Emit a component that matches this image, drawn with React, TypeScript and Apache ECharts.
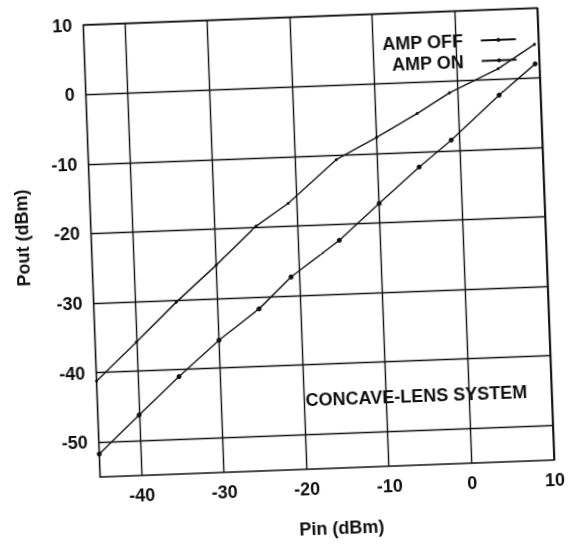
import React, { useEffect, useRef } from 'react';
import * as echarts from 'echarts';

// Pin (dBm) / Pout (dBm)
const pinOff = [-45, -40, -35, -30, -25, -21, -15, -10, -5, -1, 5, 9.5];
const poutOff = [-51.7, -46.3, -41, -36, -31.7, -27.3, -22.3, -17.2, -12.2, -8.5, -2.3, 2.0];
const pinOn = [-45, -40, -35, -30, -25, -21, -15, -10, -5, -1, 5, 9.5];
const poutOn = [-41.2, -35.8, -30.3, -25.2, -19.8, -16.7, -10.7, -7.7, -4.5, -1.7, 1.5, 4.8];
const xTicks = [-40, -30, -20, -10, 0, 10];
const yTicks = [-50, -40, -30, -20, -10, 0, 10];
const seriesNames = ['AMP OFF', 'AMP ON'];
const annotation = 'CONCAVE-LENS SYSTEM';

const FONT = '"Liberation Sans", Arial, Helvetica, sans-serif';
const INK = '#111';

export default function App() {
  const ref = useRef<HTMLDivElement>(null);
  useEffect(() => {
    if (!ref.current) return;
    const chart = echarts.init(ref.current, null, { renderer: 'svg' });
    const gridLine = { show: true, lineStyle: { color: ['rgba(0,0,0,0)', INK], width: 1.4 } };
    const labelStyle = { fontFamily: FONT, fontSize: 18, fontWeight: 'bold', color: INK };
    chart.setOption({
      animation: false,
      backgroundColor: '#fff',
      textStyle: { fontFamily: FONT, color: INK },
      grid: { left: 92.6, top: 17.7, width: 454.3, height: 454.3, show: true, borderColor: INK, borderWidth: 1.6, backgroundColor: 'transparent' },
      legend: {
        data: seriesNames,
        orient: 'vertical',
        right: 37.6,
        top: 34,
        align: 'right',
        itemGap: 2.5,
        itemWidth: 35,
        itemHeight: 5,
        textStyle: { ...labelStyle, lineHeight: 18, padding: [0, 13, 0, 0] },
      },
      xAxis: {
        type: 'value',
        min: -45,
        max: 10,
        interval: 5,
        name: 'Pin (dBm)',
        nameLocation: 'middle',
        nameGap: 51,
        nameTextStyle: { ...labelStyle, padding: [0, 0, 0, 25] },
        axisLine: { show: false },
        axisTick: { show: false },
        splitLine: gridLine,
        axisLabel: {
          ...labelStyle,
          margin: 10.5,
          formatter: (v: number) => (xTicks.includes(v) ? String(v) : ''),
        },
      },
      yAxis: {
        type: 'value',
        min: -55,
        max: 10,
        interval: 5,
        name: 'Pout (dBm)',
        nameLocation: 'middle',
        nameGap: 60,
        nameTextStyle: { ...labelStyle, padding: [0, 0, 0, 31] },
        axisLine: { show: false },
        axisTick: { show: false },
        splitLine: gridLine,
        axisLabel: {
          ...labelStyle,
          margin: 11,
          formatter: (v: number) => (yTicks.includes(v) ? String(v) : ''),
        },
      },
      graphic: [
        {
          type: 'text',
          x: 300.8,
          y: 400.7,
          style: { text: annotation, font: `bold 18px ${FONT}`, fill: INK, verticalAlign: 'middle', align: 'left' },
        },
      ],
      series: [
        {
          name: seriesNames[0],
          type: 'line',
          data: pinOff.map((x, i) => [x, poutOff[i]]),
          symbol: 'circle',
          symbolSize: 5,
          itemStyle: { color: INK },
          lineStyle: { color: INK, width: 1.4 },
        },
        {
          name: seriesNames[1],
          type: 'line',
          data: pinOn.map((x, i) => [x, poutOn[i]]),
          symbol: 'circle',
          symbolSize: 3,
          itemStyle: { color: INK },
          lineStyle: { color: INK, width: 1.4 },
        },
      ],
    });
    return () => chart.dispose();
  }, []);
  return (
    <div
      ref={ref}
      style={{
        position: 'fixed',
        left: 0,
        top: 0,
        width: 568,
        height: 544,
        transform: 'rotate(-2.14deg)',
        transformOrigin: '50% 50%',
      }}
    />
  );
}
